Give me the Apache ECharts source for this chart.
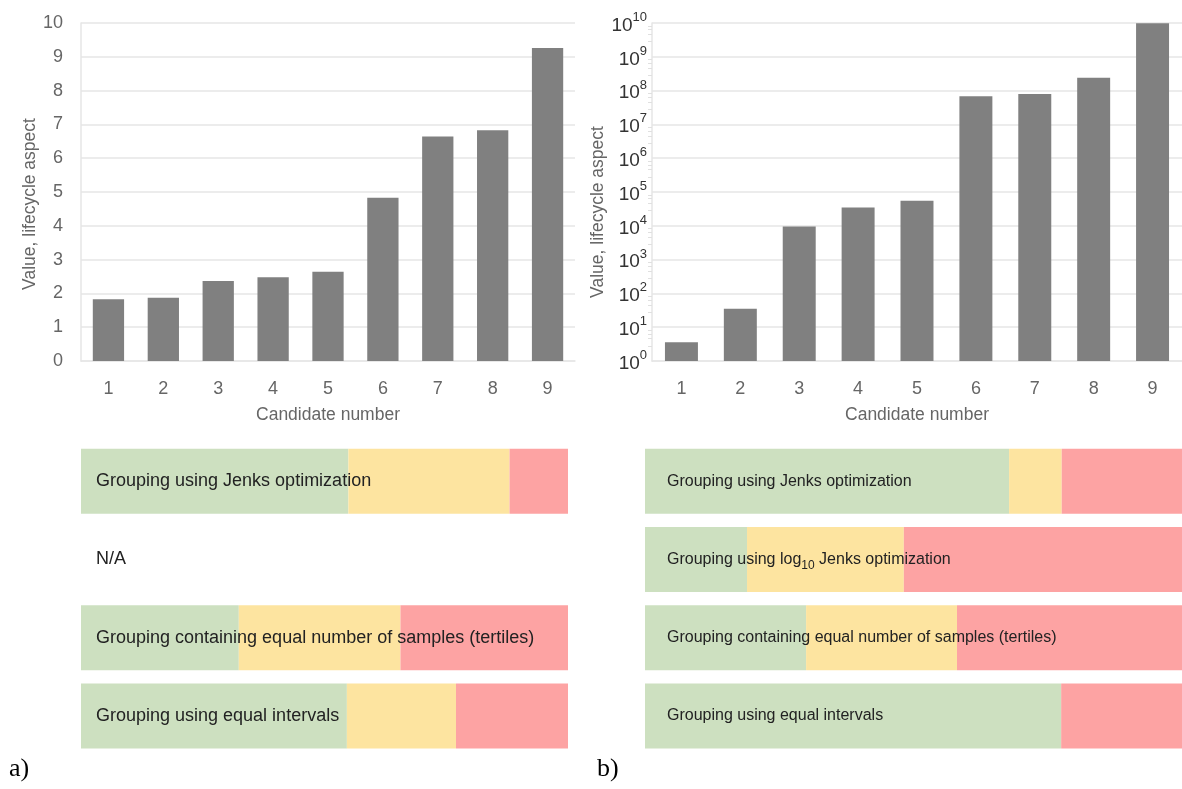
<!DOCTYPE html>
<html>
<head>
<meta charset="utf-8">
<script src="https://cdn.jsdelivr.net/npm/echarts@6/dist/echarts.min.js"></script>
<style>
  html, body { margin: 0; padding: 0; background: #fff; }
  #main { width: 1182px; height: 789px; }
</style>
</head>
<body>
<div id="main"></div>
<script>
// candidates and their lifecycle values
var candidates = ['1', '2', '3', '4', '5', '6', '7', '8', '9'];
var linearValues = [1.83, 1.87, 2.37, 2.48, 2.64, 4.83, 6.64, 6.83, 9.26];
var logValues = [3.6, 35, 9600, 35000, 55000, 6.8e7, 7.9e7, 2.4e8, 9.8e9];

// grouping strips (share of the strip width)
var rowsA = ['Grouping using Jenks optimization', 'N/A',
    'Grouping containing equal number of samples (tertiles)', 'Grouping using equal intervals'];
var greenA = [0.549, 0, 0.324, 0.546];
var yellowA = [0.331, 0, 0.332, 0.224];
var redA = [0.120, 0, 0.344, 0.230];

var rowsB = ['Grouping using Jenks optimization', 'Grouping using log{sub|10} Jenks optimization',
    'Grouping containing equal number of samples (tertiles)', 'Grouping using equal intervals'];
var greenB = [0.678, 0.190, 0.300, 0.775];
var yellowB = [0.098, 0.292, 0.281, 0];
var redB = [0.224, 0.518, 0.419, 0.225];

var font = "'Liberation Sans', Arial, sans-serif";
var GREEN = '#cde0c0', YELLOW = '#fde4a0', RED = '#fda3a3';

var myChart = echarts.init(document.getElementById('main'));

function stripSeries(axisIdx, green, yellow, red, rows, dist, size) {
    var ones = rows.map(function () { return 1; });
    return [
        { type: 'bar', xAxisIndex: axisIdx, yAxisIndex: axisIdx, stack: 's' + axisIdx, barWidth: 65,
          data: green, itemStyle: { color: GREEN }, silent: true },
        { type: 'bar', xAxisIndex: axisIdx, yAxisIndex: axisIdx, stack: 's' + axisIdx, barWidth: 65,
          data: yellow, itemStyle: { color: YELLOW }, silent: true },
        { type: 'bar', xAxisIndex: axisIdx, yAxisIndex: axisIdx, stack: 's' + axisIdx, barWidth: 65,
          data: red, itemStyle: { color: RED }, silent: true },
        { type: 'bar', xAxisIndex: axisIdx, yAxisIndex: axisIdx, barWidth: 65, barGap: '-100%', z: 5,
          data: ones, itemStyle: { color: 'rgba(0,0,0,0)' }, silent: true,
          label: {
              show: true, position: 'insideLeft', distance: dist,
              formatter: function (p) { return rows[p.dataIndex]; },
              fontFamily: font, fontSize: size, color: '#222', lineHeight: 24,
              rich: { sub: { fontFamily: font, fontSize: 12, color: '#222', lineHeight: 12, verticalAlign: 'bottom' } }
          } }
    ];
}

var gridLine = { lineStyle: { color: '#e6e6e6', width: 1.5 } };
var axisLineGrey = { show: true, lineStyle: { color: '#e6e6e6', width: 1.5 } };
var tickFont = { fontFamily: font, fontSize: 18, color: '#666' };
var nameFont = { fontFamily: font, fontSize: 17.5, color: '#666' };

var option = {
    animation: false,
    grid: [
        { left: 81, top: 23, width: 494, height: 338 },
        { left: 652, top: 23, width: 533, height: 338 },
        { left: 81, top: 442, width: 487, height: 313 },
        { left: 645, top: 442, width: 537, height: 313 }
    ],
    xAxis: [
        { gridIndex: 0, type: 'category', data: candidates,
          axisLine: axisLineGrey, axisTick: { show: false },
          axisLabel: Object.assign({ margin: 19 }, tickFont),
          name: 'Candidate number', nameLocation: 'middle', nameGap: 45, nameTextStyle: nameFont },
        { gridIndex: 1, type: 'category', data: candidates,
          axisLine: axisLineGrey, axisTick: { show: false },
          axisLabel: Object.assign({ margin: 19 }, tickFont),
          name: 'Candidate number', nameLocation: 'middle', nameGap: 45, nameTextStyle: nameFont },
        { gridIndex: 2, type: 'value', min: 0, max: 1, show: false },
        { gridIndex: 3, type: 'value', min: 0, max: 1, show: false }
    ],
    yAxis: [
        { gridIndex: 0, type: 'value', min: 0, max: 10, interval: 1,
          axisLine: axisLineGrey, axisTick: { show: false }, splitLine: gridLine,
          axisLabel: Object.assign({ margin: 18 }, tickFont),
          name: 'Value, lifecycle aspect', nameLocation: 'middle', nameGap: 41,
          nameTextStyle: Object.assign({ padding: [0, 24, 0, 0] }, nameFont) },
        { gridIndex: 1, type: 'log', logBase: 10, min: 1, max: 1e10, interval: 1, splitNumber: 10,
          axisLine: axisLineGrey, axisTick: { show: false }, splitLine: gridLine,
          minorTick: { show: true, splitNumber: 5, length: 4, lineStyle: { color: '#e0e0e0' } },
          axisLabel: {
              margin: 5,
              formatter: function (v) {
                  return '{b|10}{s|' + Math.round(Math.log(v) / Math.LN10) + '}';
              },
              rich: {
                  b: { fontFamily: font, fontSize: 19, color: '#333', lineHeight: 24, verticalAlign: 'bottom' },
                  s: { fontFamily: font, fontSize: 13, color: '#333', lineHeight: 13, verticalAlign: 'top' }
              }
          },
          name: 'Value, lifecycle aspect', nameLocation: 'middle', nameGap: 40,
          nameTextStyle: Object.assign({ padding: [0, 40, 0, 0] }, nameFont) },
        { gridIndex: 2, type: 'category', inverse: true, data: rowsA.map(function (r, i) { return i; }), show: false },
        { gridIndex: 3, type: 'category', inverse: true, data: rowsB.map(function (r, i) { return i; }), show: false }
    ],
    series: [
        { type: 'bar', xAxisIndex: 0, yAxisIndex: 0, data: linearValues, barWidth: '57%',
          itemStyle: { color: '#808080' } },
        { type: 'bar', xAxisIndex: 1, yAxisIndex: 1, data: logValues, barWidth: '56%',
          itemStyle: { color: '#808080' } }
    ].concat(stripSeries(2, greenA, yellowA, redA, rowsA, 15, 18))
     .concat(stripSeries(3, greenB, yellowB, redB, rowsB, 22, 16)),
    graphic: [
        { type: 'text', left: 9, top: 756, style: { text: 'a)', font: '26px "Liberation Serif", serif', fill: '#000' } },
        { type: 'text', left: 597, top: 756, style: { text: 'b)', font: '26px "Liberation Serif", serif', fill: '#000' } }
    ]
};
myChart.setOption(option);
</script>
</body>
</html>
